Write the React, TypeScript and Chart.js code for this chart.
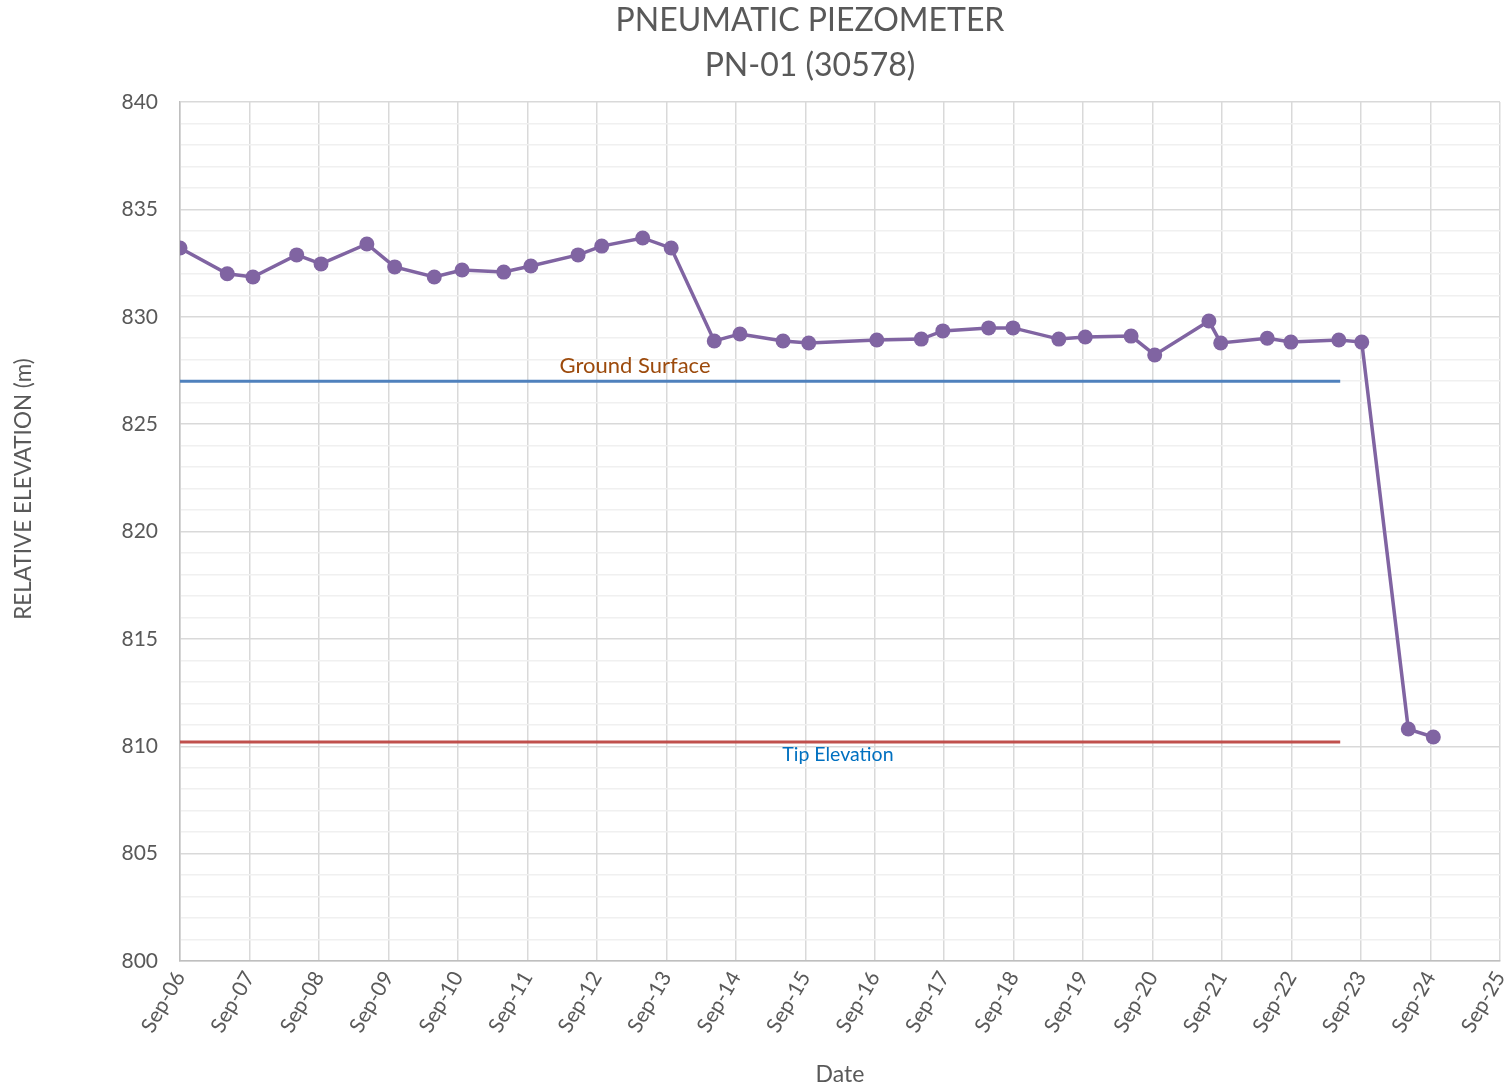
import React, { useEffect, useRef } from "react";
import { Chart, registerables } from "chart.js";

Chart.register(...registerables);

const TITLE_LINES = ["PNEUMATIC PIEZOMETER", "PN-01 (30578)"];
const X_TICK_LABELS = [
  "Sep-06", "Sep-07", "Sep-08", "Sep-09", "Sep-10", "Sep-11", "Sep-12", "Sep-13", "Sep-14", "Sep-15",
  "Sep-16", "Sep-17", "Sep-18", "Sep-19", "Sep-20", "Sep-21", "Sep-22", "Sep-23", "Sep-24", "Sep-25",
];
// days since Sep-06
const READING_DAYS = [
  0, 0.68, 1.05, 1.68, 2.03, 2.69, 3.09, 3.66, 4.06, 4.66, 5.05, 5.73, 6.07, 6.66, 7.07, 7.69, 8.06, 8.68,
  9.05, 10.03, 10.67, 10.98, 11.64, 11.99, 12.65, 13.03, 13.69, 14.03, 14.81, 14.98, 15.65, 15.99, 16.68,
  17.01, 17.68, 18.04,
];
const READING_ELEV = [
  833.2, 832.0, 831.85, 832.88, 832.46, 833.39, 832.32, 831.85, 832.18, 832.08, 832.36, 832.88, 833.29,
  833.67, 833.2, 828.87, 829.2, 828.87, 828.78, 828.92, 828.96, 829.34, 829.48, 829.48, 828.96, 829.06,
  829.1, 828.22, 829.8, 828.78, 829.0, 828.82, 828.92, 828.82, 810.8, 810.43,
];
const REF_DAYS = [0, 16.7];
const GROUND_SURFACE = [827.0, 827.0];
const TIP_ELEVATION = [810.2, 810.2];
const GROUND_LABEL = { text: "Ground Surface", day: 6.55, elev: 827.7 };
const TIP_LABEL = { text: "Tip Elevation", day: 9.47, elev: 809.6 };

const FONT = "Lato, 'Open Sans', sans-serif";
const GREY = "#595959";

const textPlugin = {
  id: "textPlugin",
  afterDraw(chart: any) {
    const ctx = chart.ctx;
    const xs = chart.scales.x;
    const ys = chart.scales.y;
    ctx.save();
    ctx.fillStyle = GREY;
    ctx.textAlign = "center";
    ctx.textBaseline = "middle";
    ctx.font = `32px ${FONT}`;
    ctx.fillText(TITLE_LINES[0], 810, 21);
    ctx.fillText(TITLE_LINES[1], 810, 66);
    ctx.font = `23px ${FONT}`;
    ctx.fillText("Date", 840, 1075);
    ctx.save();
    ctx.translate(24, 489);
    ctx.rotate(-Math.PI / 2);
    ctx.font = `22.5px ${FONT}`;
    ctx.fillText("RELATIVE ELEVATION (m)", 0, 0);
    ctx.restore();
    ctx.font = `22px ${FONT}`;
    ctx.fillStyle = "#9C4A0C";
    ctx.fillText(GROUND_LABEL.text, xs.getPixelForValue(GROUND_LABEL.day), ys.getPixelForValue(GROUND_LABEL.elev));
    ctx.font = `19.5px ${FONT}`;
    ctx.fillStyle = "#0070C0";
    ctx.fillText(TIP_LABEL.text, xs.getPixelForValue(TIP_LABEL.day), ys.getPixelForValue(TIP_LABEL.elev));
    ctx.restore();
  },
};

export default function App() {
  const ref = useRef<HTMLCanvasElement>(null);
  useEffect(() => {
    document.body.style.margin = "0";
    const chart = new Chart(ref.current!, {
      type: "line",
      data: {
        datasets: [
          {
            label: "Ground Surface",
            data: REF_DAYS.map((d, i) => ({ x: d, y: GROUND_SURFACE[i] })),
            borderColor: "#4F81BD",
            borderWidth: 3,
            pointRadius: 0,
          },
          {
            label: "Tip Elevation",
            data: REF_DAYS.map((d, i) => ({ x: d, y: TIP_ELEVATION[i] })),
            borderColor: "#C0504D",
            borderWidth: 3,
            pointRadius: 0,
          },
          {
            label: "PN-01",
            data: READING_DAYS.map((d, i) => ({ x: d, y: READING_ELEV[i] })),
            borderColor: "#8064A2",
            backgroundColor: "#8064A2",
            borderWidth: 3.5,
            pointRadius: 7.5,
            pointBorderWidth: 0,
          },
        ],
      },
      options: {
        animation: false,
        responsive: false,
        layout: { padding: { top: 102, right: 9, left: 0, bottom: 0 } },
        plugins: { legend: { display: false }, title: { display: false }, tooltip: { enabled: false } },
        scales: {
          x: {
            type: "linear",
            min: 0,
            max: 19,
            afterBuildTicks: (s: any) => {
              s.ticks = X_TICK_LABELS.map((_, i) => ({ value: i }));
            },
            afterFit: (s: any) => {
              s.height = 130;
              s.paddingLeft = 0;
              s.paddingRight = 0;
            },
            ticks: {
              autoSkip: false,
              minRotation: 60,
              maxRotation: 60,
              padding: 6,
              color: GREY,
              font: { family: FONT, size: 21 },
              callback: (v: any) => X_TICK_LABELS[Math.round(v)] ?? "",
            },
            grid: { color: "#d9d9d9", lineWidth: 1.5, drawTicks: false },
            border: { color: "#bfbfbf", width: 1.5 },
          },
          y: {
            min: 800,
            max: 840,
            afterBuildTicks: (s: any) => {
              const t = [];
              for (let v = 800; v <= 840; v++) t.push({ value: v });
              s.ticks = t;
            },
            afterFit: (s: any) => {
              s.width = 180;
              s.paddingTop = 0;
              s.paddingBottom = 0;
            },
            ticks: {
              autoSkip: false,
              padding: 22,
              color: GREY,
              font: { family: FONT, size: 21 },
              callback: (v: any) => (v % 5 === 0 ? String(v) : ""),
            },
            grid: {
              drawTicks: false,
              color: (c: any) => (c.tick && c.tick.value % 5 === 0 ? "#d9d9d9" : "#f0f0f0"),
              lineWidth: 1.5,
            },
            border: { color: "#bfbfbf", width: 1.5 },
          },
        },
      },
      plugins: [textPlugin],
    });
    return () => chart.destroy();
  }, []);
  return <canvas ref={ref} width={1509} height={1091} style={{ display: "block" }} />;
}
